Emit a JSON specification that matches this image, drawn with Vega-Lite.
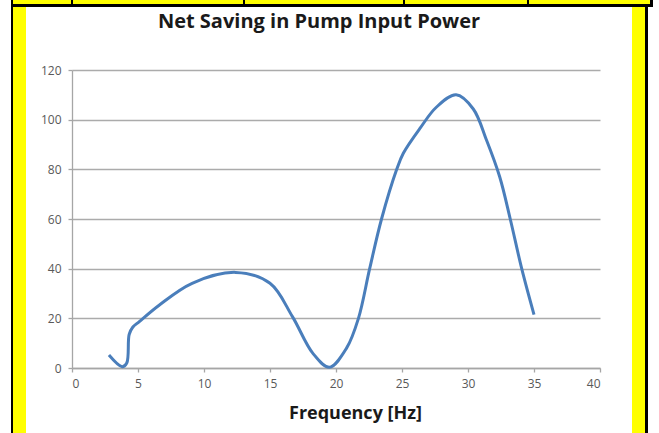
{
  "$schema": "https://vega.github.io/schema/vega-lite/v6.json",
  "padding": {"left": 11, "top": 0, "right": 0, "bottom": 0},
  "background": "white",
  "config": {"view": {"stroke": null}, "font": "Open Sans"},
  "spacing": 0,
  "vconcat": [
    {
      "spacing": 0,
      "hconcat": [
        {"width": 2, "height": 4, "data": {"values": []}, "mark": "point", "view": {"fill": "#000000", "stroke": null}},
        {"width": 58, "height": 4, "data": {"values": []}, "mark": "point", "view": {"fill": "#ffff00", "stroke": null}},
        {"width": 2, "height": 4, "data": {"values": []}, "mark": "point", "view": {"fill": "#000000", "stroke": null}},
        {"width": 170, "height": 4, "data": {"values": []}, "mark": "point", "view": {"fill": "#ffff00", "stroke": null}},
        {"width": 2, "height": 4, "data": {"values": []}, "mark": "point", "view": {"fill": "#000000", "stroke": null}},
        {"width": 158, "height": 4, "data": {"values": []}, "mark": "point", "view": {"fill": "#ffff00", "stroke": null}},
        {"width": 2, "height": 4, "data": {"values": []}, "mark": "point", "view": {"fill": "#000000", "stroke": null}},
        {"width": 122, "height": 4, "data": {"values": []}, "mark": "point", "view": {"fill": "#ffff00", "stroke": null}},
        {"width": 2, "height": 4, "data": {"values": []}, "mark": "point", "view": {"fill": "#000000", "stroke": null}},
        {"width": 121, "height": 4, "data": {"values": []}, "mark": "point", "view": {"fill": "#ffff00", "stroke": null}},
        {"width": 3, "height": 4, "data": {"values": []}, "mark": "point", "view": {"fill": "#000000", "stroke": null}}
      ]
    },
    {"width": 642, "height": 3, "data": {"values": []}, "mark": "point", "view": {"fill": "#000000", "stroke": null}},
    {
      "spacing": 0,
      "hconcat": [
        {"width": 2, "height": 426, "data": {"values": []}, "mark": "point", "view": {"fill": "#000000", "stroke": null}},
        {"width": 13, "height": 426, "data": {"values": []}, "mark": "point", "view": {"fill": "#ffff00", "stroke": null}},
        {
          "spacing": 0,
          "vconcat": [
            {"width": 10, "height": 5, "data": {"values": []}, "mark": "point"},
            {
              "width": 528,
              "height": 298,
              "title": {"text": "Net Saving in Pump Input Power", "font": "Open Sans", "fontSize": 20, "fontWeight": "bold", "color": "#1a1a1a", "frame": "group", "anchor": "middle", "dx": -17, "offset": 32},
              "data": {"values": [
                {"frequency": 2.8, "saving": 5.2},
                {"frequency": 3.8, "saving": 0.5},
                {"frequency": 4.15, "saving": 2.0},
                {"frequency": 4.33, "saving": 13.5},
                {"frequency": 4.6, "saving": 16.4},
                {"frequency": 5.1, "saving": 18.7},
                {"frequency": 6.6, "saving": 25.3},
                {"frequency": 9.1, "saving": 34.1},
                {"frequency": 12.4, "saving": 38.5},
                {"frequency": 15.0, "saving": 34.1},
                {"frequency": 16.7, "saving": 20.7},
                {"frequency": 18.25, "saving": 5.9},
                {"frequency": 19.5, "saving": 0.3},
                {"frequency": 20.8, "saving": 8.0},
                {"frequency": 21.7, "saving": 20.0},
                {"frequency": 22.55, "saving": 40.0},
                {"frequency": 23.45, "saving": 60.0},
                {"frequency": 24.6, "saving": 80.0},
                {"frequency": 25.1, "saving": 86.5},
                {"frequency": 26.4, "saving": 96.8},
                {"frequency": 27.6, "saving": 105.0},
                {"frequency": 29.1, "saving": 110.0},
                {"frequency": 30.4, "saving": 104.3},
                {"frequency": 31.4, "saving": 91.8},
                {"frequency": 32.4, "saving": 77.0},
                {"frequency": 33.2, "saving": 60.0},
                {"frequency": 34.07, "saving": 40.0},
                {"frequency": 35.0, "saving": 21.5}
              ]},
              "mark": {"type": "line", "interpolate": "catmull-rom", "color": "#4a7ebb", "strokeWidth": 3},
              "encoding": {
                "x": {
                  "field": "frequency", "type": "quantitative",
                  "scale": {"domain": [0, 40], "nice": false, "zero": false},
                  "axis": {
                    "values": [0, 5, 10, 15, 20, 25, 30, 35, 40],
                    "title": "Frequency [Hz]",
                    "titleFont": "Open Sans", "titleFontSize": 18, "titleFontWeight": "bold", "titleColor": "#1a1a1a",
                    "titleX": 283, "titleY": 45, "titleBaseline": "middle", "titleAnchor": "middle", "titleAlign": "center",
                    "grid": false,
                    "domainColor": "#a6a6a6", "domainWidth": 1.3,
                    "tickColor": "#a6a6a6", "tickSize": 4, "tickWidth": 1.3,
                    "labelFont": "Open Sans", "labelFontSize": 12, "labelColor": "#595959", "labelPadding": 6
                  }
                },
                "y": {
                  "field": "saving", "type": "quantitative",
                  "scale": {"domain": [0, 120], "nice": false, "zero": false},
                  "axis": {
                    "values": [0, 20, 40, 60, 80, 100, 120],
                    "title": null,
                    "grid": true, "gridColor": "#ababab", "gridWidth": 1.3,
                    "domainColor": "#a6a6a6", "domainWidth": 1.3,
                    "tickColor": "#a6a6a6", "tickSize": 4, "tickWidth": 1.3,
                    "labelFont": "Open Sans", "labelFontSize": 12, "labelColor": "#595959", "labelPadding": 7,
                    "minExtent": 46, "maxExtent": 46
                  }
                }
              }
            }
          ]
        },
        {"width": 31, "height": 426, "data": {"values": []}, "mark": "point"},
        {"width": 13, "height": 426, "data": {"values": []}, "mark": "point", "view": {"fill": "#ffff00", "stroke": null}},
        {"width": 3, "height": 426, "data": {"values": []}, "mark": "point", "view": {"fill": "#000000", "stroke": null}}
      ]
    }
  ]
}
